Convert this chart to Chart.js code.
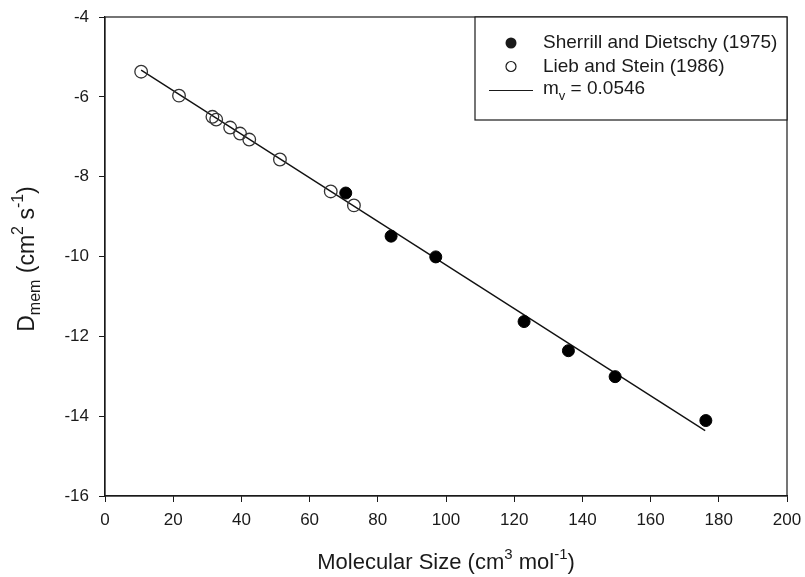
<!DOCTYPE html>
<html>
<head>
<meta charset="utf-8">
<script src="https://cdn.jsdelivr.net/npm/chart.js@4.4.1/dist/chart.umd.min.js"></script>
<style>
  html, body { margin: 0; padding: 0; background: #fff; }
  #wrap { width: 805px; height: 577px; }
</style>
</head>
<body>
<div id="wrap"><canvas id="chart" width="805" height="577"></canvas></div>
<script>
// Sherrill and Dietschy (1975) - filled circles
const sherrillX = [70.6, 83.9, 97.0, 122.9, 135.9, 149.6, 176.2];
const sherrillY = [-8.41, -9.49, -10.01, -11.63, -12.36, -13.01, -14.11];

// Lieb and Stein (1986) - open circles
const liebX = [10.6, 21.7, 31.5, 32.6, 36.7, 39.6, 42.3, 51.3, 66.2, 73.0];
const liebY = [-5.37, -5.97, -6.50, -6.57, -6.77, -6.92, -7.07, -7.57, -8.37, -8.72];

// regression line, m_v = 0.0546
const fitX = [10.6, 176];
const fitY = [-5.33, -14.36];

const xTicks = [0, 20, 40, 60, 80, 100, 120, 140, 160, 180, 200];
const yTicks = [-16, -14, -12, -10, -8, -6, -4];

const FONT = "'Liberation Sans', Arial, sans-serif";
const INK = "#1a1a1a";

const pts = (xs, ys) => xs.map((x, i) => ({ x, y: ys[i] }));

function partFont(p, size) {
  return `${p.small ? Math.round(size * 0.7) : size}px ${FONT}`;
}

// draw a run of text pieces, some raised or lowered, centred on (cx, cy)
function richText(ctx, parts, cx, cy, size) {
  const widths = parts.map((p) => {
    ctx.font = partFont(p, size);
    return ctx.measureText(p.t).width;
  });
  const total = widths.reduce((a, b) => a + b, 0);
  let x = cx - total / 2;
  ctx.textBaseline = "middle";
  ctx.textAlign = "left";
  parts.forEach((p, i) => {
    ctx.font = partFont(p, size);
    ctx.fillText(p.t, x, cy + (p.dy || 0));
    x += widths[i];
  });
}

function richTextLeft(ctx, parts, x, cy, size) {
  const total = parts.reduce((s, p) => {
    ctx.font = partFont(p, size);
    return s + ctx.measureText(p.t).width;
  }, 0);
  richText(ctx, parts, x + total / 2, cy, size);
}

const framePlugin = {
  id: "frame",
  afterDraw(chart) {
    const { ctx, chartArea: a } = chart;
    ctx.save();
    ctx.strokeStyle = INK;
    ctx.lineWidth = 1.2;
    ctx.strokeRect(a.left, a.top, a.right - a.left, a.bottom - a.top);

    // axis titles
    ctx.fillStyle = INK;
    richText(ctx, [
      { t: "Molecular Size (cm" },
      { t: "3", small: true, dy: -8 },
      { t: " mol" },
      { t: "-1", small: true, dy: -8 },
      { t: ")" },
    ], (a.left + a.right) / 2, 563, 22);

    ctx.save();
    ctx.translate(28, 259);
    ctx.rotate(-Math.PI / 2);
    richText(ctx, [
      { t: "D" },
      { t: "mem", small: true, dy: 8 },
      { t: " (cm" },
      { t: "2", small: true, dy: -9 },
      { t: " s" },
      { t: "-1", small: true, dy: -9 },
      { t: ")" },
    ], 0, 0, 23);
    ctx.restore();

    // legend box
    const w = 312, h = 103;
    const lx = a.right - w, ly = a.top;
    ctx.fillStyle = "#fff";
    ctx.fillRect(lx, ly, w, h);
    ctx.strokeStyle = INK;
    ctx.lineWidth = 1.2;
    ctx.strokeRect(lx, ly, w, h);

    const mx = lx + 36, tx = lx + 68;
    ctx.fillStyle = INK;
    ctx.beginPath();
    ctx.arc(mx, ly + 26, 5.5, 0, Math.PI * 2);
    ctx.fill();
    ctx.beginPath();
    ctx.arc(mx, ly + 49.5, 5, 0, Math.PI * 2);
    ctx.lineWidth = 1.2;
    ctx.stroke();
    ctx.beginPath();
    ctx.moveTo(lx + 14, ly + 73.5);
    ctx.lineTo(lx + 58, ly + 73.5);
    ctx.lineWidth = 1;
    ctx.stroke();

    const ds = chart.data.datasets;
    ctx.fillStyle = INK;
    richTextLeft(ctx, [{ t: ds[0].label }], tx, ly + 26, 19);
    richTextLeft(ctx, [{ t: ds[1].label }], tx, ly + 49.5, 19);
    richTextLeft(ctx, [
      { t: "m" },
      { t: "v", small: true, dy: 7 },
      { t: " = 0.0546" },
    ], tx, ly + 72, 19);
    ctx.restore();
  },
};

new Chart(document.getElementById("chart"), {
  type: "scatter",
  data: {
    datasets: [
      {
        label: "Sherrill and Dietschy (1975)",
        data: pts(sherrillX, sherrillY),
        pointRadius: 6,
        pointBackgroundColor: "#000",
        pointBorderColor: "#000",
        pointBorderWidth: 1,
        showLine: false,
        order: 1,
      },
      {
        label: "Lieb and Stein (1986)",
        data: pts(liebX, liebY),
        pointRadius: 6.3,
        pointBackgroundColor: "rgba(255,255,255,0)",
        pointBorderColor: "#333",
        pointBorderWidth: 1.3,
        showLine: false,
        order: 2,
      },
      {
        label: "fit",
        data: pts(fitX, fitY),
        showLine: true,
        pointRadius: 0,
        borderColor: "#111",
        borderWidth: 1.4,
        fill: false,
        order: 3,
      },
    ],
  },
  options: {
    responsive: false,
    animation: false,
    layout: { padding: { top: 17, right: 18, left: 0, bottom: 0 } },
    plugins: { legend: { display: false }, tooltip: { enabled: false } },
    scales: {
      x: {
        type: "linear",
        min: 0,
        max: 200,
        afterBuildTicks: (s) => { s.ticks = xTicks.map((v) => ({ value: v })); },
        afterFit: (s) => {
          s.height = 81;
          s.paddingLeft = 0;
          s.paddingRight = 0;
        },
        grid: { drawOnChartArea: false, drawTicks: true, tickLength: 6, color: INK, lineWidth: 1 },
        border: { display: true, color: INK, width: 1.2 },
        ticks: { color: INK, font: { family: FONT, size: 17 }, padding: 8, maxRotation: 0 },
      },
      y: {
        type: "linear",
        min: -16,
        max: -4,
        afterBuildTicks: (s) => { s.ticks = yTicks.map((v) => ({ value: v })); },
        afterFit: (s) => {
          s.width = 105;
          s.paddingTop = 0;
          s.paddingBottom = 0;
        },
        grid: { drawOnChartArea: false, drawTicks: true, tickLength: 6, color: INK, lineWidth: 1 },
        border: { display: true, color: INK, width: 1.2 },
        ticks: { color: INK, font: { family: FONT, size: 17 }, padding: 10 },
      },
    },
  },
  plugins: [framePlugin],
});
</script>
</body>
</html>
